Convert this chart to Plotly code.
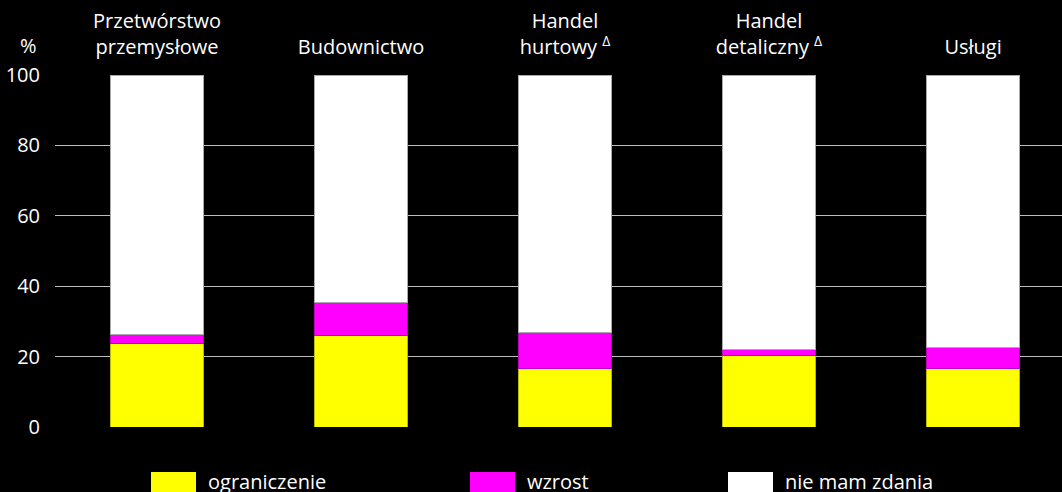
import plotly.graph_objects as go

categories = ["Przetwórstwo<br>przemysłowe", "Budownictwo", "Handel<br>hurtowy <sup>Δ</sup>",
              "Handel<br>detaliczny <sup>Δ</sup>", "Usługi"]
ograniczenie = [23.6, 25.9, 16.7, 20.2, 16.5]
wzrost = [2.7, 9.6, 10.1, 1.9, 6.0]
nie_mam_zdania = [round(100 - a - b, 1) for a, b in zip(ograniczenie, wzrost)]
series_names = ["ograniczenie", "wzrost", "nie mam zdania"]
series_colors = ["#ffff00", "#ff00ff", "#ffffff"]
y_ticks = [0, 20, 40, 60, 80, 100]

FONT = "Open Sans"
FS = 20
L, T, W, H = 55, 75, 1007, 352

fig = go.Figure()
for name, vals, col, lc in zip(series_names, [ograniczenie, wzrost, nie_mam_zdania], series_colors,
                               ["#b8b800", "#c000c0", "#aaaaaa"]):
    fig.add_trace(go.Bar(x=categories, y=vals, name=name,
                         marker=dict(color=col, line=dict(color=lc, width=1)),
                         width=0.456, showlegend=False, hoverinfo="skip"))

fig.update_layout(
    barmode="stack",
    paper_bgcolor="black", plot_bgcolor="black",
    width=1062, height=492,
    margin=dict(l=L, r=0, t=T, b=65, pad=0),
    font=dict(family=FONT, size=FS, color="white"),
    xaxis=dict(side="top", range=[-0.5, 4.436], showgrid=False, zeroline=False, showline=False,
               ticks="outside", ticklen=12, tickcolor="black", tickfont=dict(size=FS)),
    yaxis=dict(range=[0, 100], tickvals=y_ticks, showgrid=True, gridcolor="#bdbdbd", gridwidth=1,
               zeroline=False, showline=False, ticks="outside", ticklen=10, tickcolor="black",
               tickfont=dict(size=FS)),
)
fig.add_annotation(text="%", xref="paper", yref="paper", x=(28 - L) / W, y=(427 - 45) / H,
                   xanchor="center", yanchor="middle", showarrow=False, font=dict(size=FS, color="white"))

# manual legend
leg_x = [151, 470, 728]
for name, col, lx in zip(series_names, series_colors, leg_x):
    fig.add_shape(type="rect", xref="paper", yref="paper",
                  x0=(lx - L) / W, x1=(lx + 45 - L) / W,
                  y0=(427 - 500) / H, y1=(427 - 472) / H,
                  fillcolor=col, line=dict(width=0))
    fig.add_annotation(text=name, xref="paper", yref="paper", x=(lx + 55 - L) / W,
                       y=(427 - 481) / H, xanchor="left", yanchor="middle", showarrow=False,
                       font=dict(size=FS, color="white"))

fig.write_html("out.html", config={"displayModeBar": False},
               post_script="document.body.style.margin='0';document.body.style.background='black';")
